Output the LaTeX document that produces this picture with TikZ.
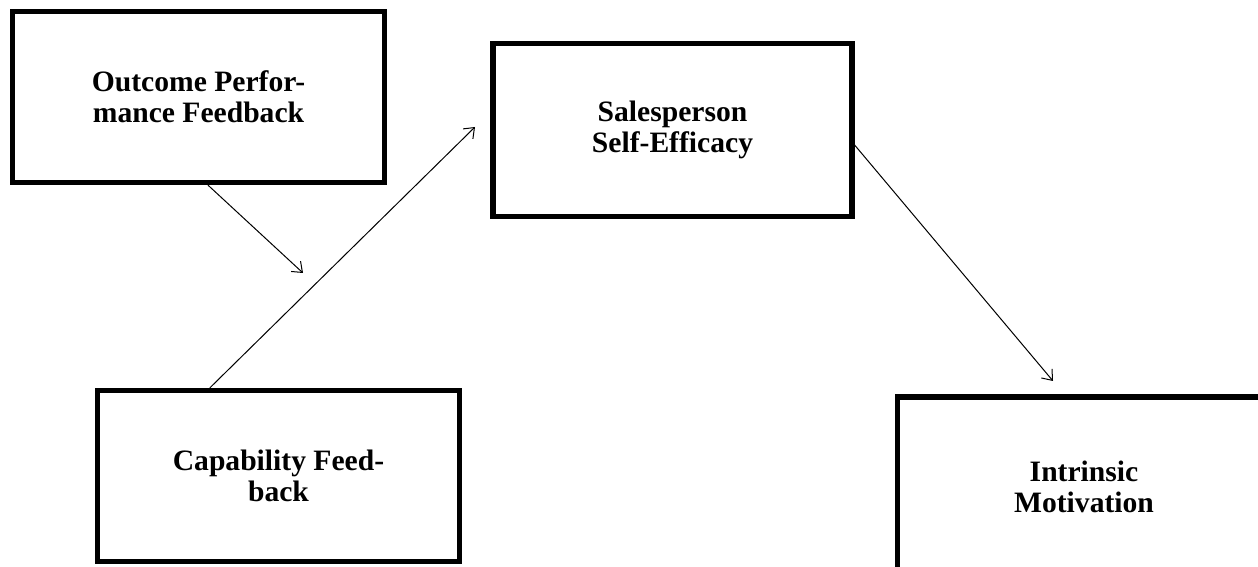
\documentclass[tikz,border=0pt]{standalone}
\usepackage{fontspec}
\setmainfont{Liberation Serif}
\usepackage{tikz}
\usetikzlibrary{arrows.meta,positioning,calc}

\begin{document}
\begin{tikzpicture}[x=0.5pt, y=0.5pt,
    construct/.style={draw, line width=2.6pt, align=center, inner sep=0pt,
      font=\bfseries\fontsize{14.8}{15.5}\selectfont},
    path/.style={line width=0.5pt, -{Straight Barb[length=4.5pt,width=7pt]}}]
  % Frame of the page
  \useasboundingbox (0,0) rectangle (1258,567);
  \clip (0,0) rectangle (1258,567);

  % Constructs
  \node[construct, minimum width=186pt, minimum height=85.5pt] (outcome) at (198.5,470)
    {Outcome Perfor-\\mance Feedback};
  \node[construct, minimum width=179.5pt, minimum height=86.5pt] (efficacy) at (672.5,437)
    {Salesperson\\Self-Efficacy};
  \node[construct, minimum width=181pt, minimum height=85.5pt] (capability) at (278.5,91)
    {Capability Feed-\\back};
  \node[construct, minimum width=186.5pt, minimum height=90pt] (motivation) at (1084,80)
    {Intrinsic\\Motivation};

  % Free ends of the paths
  \coordinate (modtip) at (303,294);
  \coordinate (efftip) at (475,440);
  \coordinate (mottip) at (1053,186);

  % Paths
  \draw[path] ($(capability.north west)!0.313!(capability.north east)$) -- (efftip);
  \draw[path] ($(outcome.south west)!0.525!(outcome.south east)$) -- (modtip);
  \draw[path] ($(efficacy.east)+(0,-15)$) -- (mottip);
\end{tikzpicture}
\end{document}
